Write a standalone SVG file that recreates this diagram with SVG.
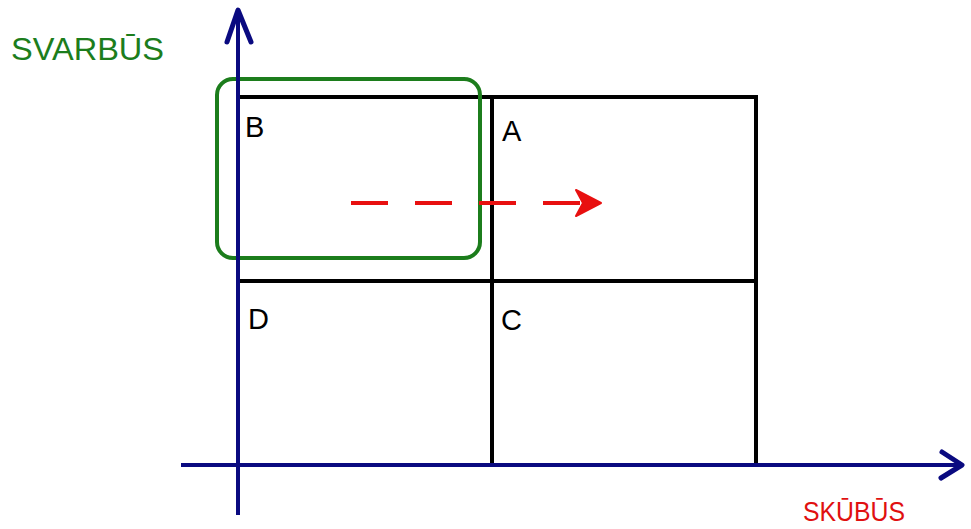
<svg xmlns="http://www.w3.org/2000/svg" width="971" height="529" viewBox="0 0 971 529">
<style>
.grid{stroke:#000;stroke-width:4;fill:none;stroke-linecap:square}
.axis{stroke:#0a0a80;stroke-width:4;fill:none}
.ahead{stroke:#0a0a80;stroke-width:5;fill:none;stroke-linecap:round;stroke-linejoin:round}
.q{font-family:"Liberation Sans",Arial,sans-serif;font-size:29px;fill:#000}
.lbl{font-family:"Liberation Sans",Arial,sans-serif}
</style>
<rect width="971" height="529" fill="#fff"/>
<g id="grid">
<line class="grid" x1="238" y1="97" x2="756" y2="97"/>
<line class="grid" x1="238" y1="281" x2="756" y2="281"/>
<line class="grid" x1="492" y1="97" x2="492" y2="465"/>
<line class="grid" x1="756" y1="97" x2="756" y2="465"/>
</g>
<g id="quadrant-B"><text class="q" x="245" y="137">B</text></g>
<g id="quadrant-A"><text class="q" x="502" y="141">A</text></g>
<g id="quadrant-D"><text class="q" x="248" y="329">D</text></g>
<g id="quadrant-C"><text class="q" x="501" y="330">C</text></g>
<g id="highlight">
<rect x="217" y="79" width="263" height="179" rx="16" ry="16" fill="none" stroke="#1c7d1c" stroke-width="4"/>
</g>
<g id="axes">
<line class="axis" x1="238" y1="10" x2="238" y2="515"/>
<polyline class="ahead" points="227,42 238,10 251,42"/>
<line class="axis" x1="181" y1="465" x2="962" y2="465"/>
<polyline class="ahead" points="942,452 962,465 941,478"/>
</g>
<g id="axis-labels">
<text class="lbl" x="11" y="60" font-size="32" fill="#1c7d1c" textLength="153" lengthAdjust="spacingAndGlyphs">SVARBŪS</text>
<text class="lbl" x="803" y="521" font-size="27" fill="#e01010" textLength="102" lengthAdjust="spacingAndGlyphs">SKŪBŪS</text>
</g>
<g id="connectors">
<line x1="351" y1="203" x2="590" y2="203" stroke="#e81010" stroke-width="4" stroke-dasharray="37,27"/>
<polygon points="601,203 576,190 583,203 576,216" fill="#e81010" stroke="#e81010" stroke-width="2" stroke-linejoin="round"/>
</g>
</svg>
